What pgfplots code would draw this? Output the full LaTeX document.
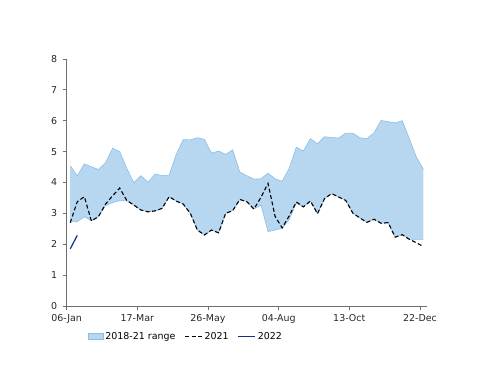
\documentclass[border=0pt]{standalone}
\usepackage{pgfplots}
\pgfplotsset{compat=1.18}
\usepackage{pgfplotstable}
\usepgfplotslibrary{fillbetween}
\usepackage{fontspec}
\setmainfont{DejaVu Sans}
\definecolor{bandfill}{RGB}{183,215,240}
\definecolor{bandedge}{RGB}{140,190,230}
\definecolor{navy22}{RGB}{15,45,150}
\definecolor{axgray}{RGB}{110,110,110}

\pgfplotstableread{
w upper lower y21
0.5 4.54 2.72 2.70
1.5 4.22 2.73 3.38
2.5 4.60 2.89 3.54
3.5 4.51 2.76 2.75
4.5 4.42 2.89 2.90
5.5 4.64 3.25 3.30
6.5 5.11 3.35 3.57
7.5 5.00 3.41 3.82
8.5 4.46 3.41 3.42
9.5 3.99 3.27 3.27
10.5 4.22 3.11 3.11
11.5 4.01 3.05 3.05
12.5 4.27 3.08 3.08
13.5 4.23 3.16 3.16
14.5 4.24 3.54 3.54
15.5 4.91 3.40 3.40
16.5 5.39 3.30 3.30
17.5 5.38 3.00 3.00
18.5 5.45 2.46 2.46
19.5 5.40 2.30 2.30
20.5 4.95 2.46 2.46
21.5 5.02 2.37 2.37
22.5 4.91 3.00 3.00
23.5 5.06 3.09 3.09
24.5 4.34 3.45 3.45
25.5 4.22 3.38 3.38
26.5 4.11 3.14 3.14
27.5 4.12 3.27 3.52
28.5 4.30 2.41 3.97
29.5 4.12 2.46 2.90
30.5 4.04 2.52 2.53
31.5 4.46 2.80 2.92
32.5 5.14 3.33 3.37
33.5 5.02 3.21 3.21
34.5 5.42 3.40 3.40
35.5 5.25 2.99 2.99
36.5 5.48 3.48 3.48
37.5 5.46 3.64 3.64
38.5 5.44 3.53 3.53
39.5 5.60 3.42 3.42
40.5 5.60 3.01 3.01
41.5 5.45 2.85 2.85
42.5 5.42 2.71 2.71
43.5 5.61 2.81 2.81
44.5 6.01 2.68 2.68
45.5 5.97 2.70 2.70
46.5 5.93 2.23 2.23
47.5 6.00 2.31 2.31
48.5 5.42 2.16 2.16
49.5 4.82 2.16 2.05
50.5 4.42 2.16 1.92
}\datatab

\pgfplotstableread{
w y22
0.5 1.85
1.5 2.29
}\datatwo

\begin{document}
\begin{tikzpicture}
\begin{axis}[
  name=ax,
  at={(0,0)}, anchor=south west,
  scale only axis,
  width=360.3bp, height=247bp,
  xmin=0, xmax=51, ymin=0, ymax=8,
  axis lines=left,
  axis line style={-, draw=axgray, line width=0.8bp},
  tick style={draw=axgray, line width=0.8bp},
  tick align=outside,
  major tick length=4bp,
  xtick={0,10,20,30,40,50},
  xticklabels={06-Jan,17-Mar,26-May,04-Aug,13-Oct,22-Dec},
  ytick={0,1,2,3,4,5,6,7,8},
  /pgf/number format/assume math mode=true,
  ticklabel style={font=\fontsize{9.5}{11}\selectfont, text=black!85},
  xticklabel style={yshift=-1bp},
  yticklabel style={xshift=-2bp},
  legend style={at={(0.05,-0.09)}, anchor=north west, draw=none,
    font=\fontsize{9.5}{11}\selectfont, legend columns=3,
    /tikz/every even column/.append style={column sep=7bp}},
  legend cell align=left,
  clip=false,
]
\addplot[name path=up, draw=bandedge, line width=0.6bp, forget plot] table[x=w, y=upper] {\datatab};
\addplot[name path=lo, draw=bandedge, line width=0.6bp, forget plot] table[x=w, y=lower] {\datatab};
\addplot[fill=bandfill, draw=none, area legend,
  legend image code/.code={\draw[fill=bandfill, draw=bandedge, line width=0.5bp] (0bp,-3bp) rectangle (15bp,3bp);}]
  fill between[of=up and lo];
\addlegendentry{2018-21 range}
\addplot[black, line width=1.1bp, dash pattern=on 4bp off 2.5bp] table[x=w, y=y21] {\datatab};
\addlegendentry{2021}
\addplot[navy22, line width=1.2bp] table[x=w, y=y22] {\datatwo};
\addlegendentry{2022}
\end{axis}
\path[use as bounding box] ([shift={(-66.7bp,-80bp)}]ax.south west) rectangle ([shift={(433.3bp,306bp)}]ax.south west);
\end{tikzpicture}
\end{document}
